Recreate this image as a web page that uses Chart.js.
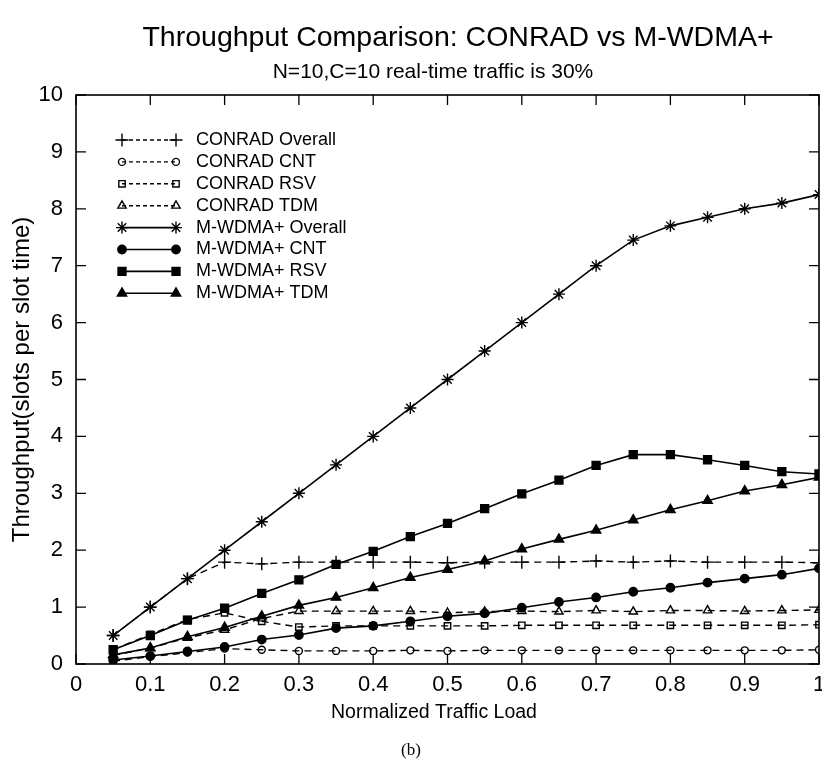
<!DOCTYPE html>
<html lang="en">
<head>
<meta charset="UTF-8">
<title>Throughput Comparison: CONRAD vs M-WDMA+</title>
<script src="https://cdn.jsdelivr.net/npm/chart.js"></script>
<style>
  html, body { margin: 0; padding: 0; background: #fff; }
  #wrap { width: 822px; height: 759px; }
</style>
</head>
<body>
<div id="wrap"><canvas id="throughputChart" width="822" height="759"></canvas></div>
<script>
// normalized traffic load
const loads = [0.05, 0.10, 0.15, 0.20, 0.25, 0.30, 0.35, 0.40, 0.45, 0.50,
               0.55, 0.60, 0.65, 0.70, 0.75, 0.80, 0.85, 0.90, 0.95, 1.00];

// CONRAD throughput (slots per slot time)
const conradOverall = [0.50, 1.00, 1.50, 1.79, 1.76, 1.79, 1.79, 1.79, 1.79, 1.78,
                       1.79, 1.79, 1.79, 1.81, 1.79, 1.81, 1.79, 1.79, 1.79, 1.78];
const conradCnt = [0.05, 0.13, 0.20, 0.27, 0.25, 0.23, 0.23, 0.23, 0.24, 0.23,
                   0.24, 0.24, 0.24, 0.24, 0.24, 0.24, 0.24, 0.24, 0.24, 0.25];
const conradRsv = [0.25, 0.52, 0.78, 0.90, 0.75, 0.65, 0.67, 0.67, 0.67, 0.67,
                   0.67, 0.68, 0.68, 0.68, 0.68, 0.68, 0.68, 0.68, 0.68, 0.69];
const conradTdm = [0.15, 0.28, 0.46, 0.60, 0.80, 0.93, 0.93, 0.93, 0.93, 0.90,
                   0.92, 0.93, 0.92, 0.94, 0.92, 0.94, 0.94, 0.93, 0.94, 0.95];

// M-WDMA+ throughput
const mwdmaOverall = [0.50, 1.00, 1.50, 2.00, 2.50, 3.00, 3.50, 4.00, 4.50, 5.00,
                      5.50, 6.00, 6.50, 7.00, 7.45, 7.70, 7.85, 8.00, 8.10, 8.25];
const mwdmaCnt = [0.07, 0.14, 0.22, 0.30, 0.43, 0.51, 0.63, 0.67, 0.75, 0.84,
                  0.89, 0.99, 1.09, 1.17, 1.27, 1.34, 1.43, 1.50, 1.57, 1.68];
const mwdmaRsv = [0.25, 0.50, 0.77, 0.98, 1.24, 1.48, 1.75, 1.98, 2.24, 2.47,
                  2.73, 2.99, 3.23, 3.49, 3.68, 3.68, 3.59, 3.49, 3.38, 3.34];
const mwdmaTdm = [0.16, 0.28, 0.48, 0.64, 0.84, 1.03, 1.17, 1.34, 1.52, 1.66,
                  1.81, 2.02, 2.19, 2.35, 2.53, 2.71, 2.87, 3.04, 3.15, 3.28];

const seriesNames = ['CONRAD Overall', 'CONRAD CNT', 'CONRAD RSV', 'CONRAD TDM',
                     'M-WDMA+ Overall', 'M-WDMA+ CNT', 'M-WDMA+ RSV', 'M-WDMA+ TDM'];
const seriesValues = [conradOverall, conradCnt, conradRsv, conradTdm,
                      mwdmaOverall, mwdmaCnt, mwdmaRsv, mwdmaTdm];

const xTicks = [0, 0.1, 0.2, 0.3, 0.4, 0.5, 0.6, 0.7, 0.8, 0.9, 1];
const xTickLabels = ['0', '0.1', '0.2', '0.3', '0.4', '0.5', '0.6', '0.7', '0.8', '0.9', '1'];
const yTicks = [0, 1, 2, 3, 4, 5, 6, 7, 8, 9, 10];
const yTickLabels = ['0', '1', '2', '3', '4', '5', '6', '7', '8', '9', '10'];

const FONT = '"Liberation Sans", Arial, sans-serif';
const INK = '#000';

// marker / line look per series (dashed = CONRAD, solid = M-WDMA+)
const markerStyles = [
  { style: 'cross',    radius: 6.5, filled: false },
  { style: 'circle',   radius: 3.5, filled: false },
  { style: 'rect',     radius: 4.5, filled: false },
  { style: 'triangle', radius: 4.8, filled: false },
  { style: 'star',     radius: 6,   filled: false },
  { style: 'circle',   radius: 4.2, filled: true },
  { style: 'rect',     radius: 5.6, filled: true },
  { style: 'triangle', radius: 5.4, filled: true }
];

const datasets = seriesNames.map((name, i) => {
  const m = markerStyles[i];
  const dashed = i < 4;
  return {
    label: name,
    data: loads.map((x, j) => ({ x: x, y: seriesValues[i][j] })),
    showLine: true,
    borderColor: INK,
    borderWidth: dashed ? 1.4 : 1.6,
    borderDash: dashed ? [7, 5] : [],
    pointStyle: m.style,
    pointRadius: m.radius,
    pointBorderWidth: 1.4,
    pointBorderColor: INK,
    pointBackgroundColor: m.filled ? INK : 'rgba(0,0,0,0)',
    tension: 0
  };
});

// box around the plot, inward tick marks on all four sides, tick labels
const axesBox = {
  id: 'axesBox',
  beforeDatasetsDraw(chart) {
    const { ctx, chartArea: a, scales } = chart;
    const tl = 10;
    ctx.save();
    ctx.strokeStyle = INK;
    ctx.lineWidth = 1.6;
    ctx.strokeRect(a.left, a.top, a.right - a.left, a.bottom - a.top);
    ctx.lineWidth = 1.3;
    ctx.beginPath();
    xTicks.forEach(v => {
      const px = scales.x.getPixelForValue(v);
      ctx.moveTo(px, a.bottom); ctx.lineTo(px, a.bottom - tl);
      ctx.moveTo(px, a.top); ctx.lineTo(px, a.top + tl);
    });
    yTicks.forEach(v => {
      const py = scales.y.getPixelForValue(v);
      ctx.moveTo(a.left, py); ctx.lineTo(a.left + tl, py);
      ctx.moveTo(a.right, py); ctx.lineTo(a.right - tl, py);
    });
    ctx.stroke();

    ctx.fillStyle = INK;
    ctx.font = '22px ' + FONT;
    ctx.textBaseline = 'middle';
    ctx.textAlign = 'center';
    xTicks.forEach((v, i) => {
      ctx.fillText(xTickLabels[i], scales.x.getPixelForValue(v), a.bottom + 21);
    });
    ctx.textAlign = 'right';
    yTicks.forEach((v, i) => {
      ctx.fillText(yTickLabels[i], a.left - 13, scales.y.getPixelForValue(v));
    });
    ctx.restore();
  }
};

// legend drawn inside the plot: line sample with a marker at each end
const innerLegend = {
  id: 'innerLegend',
  afterDatasetsDraw(chart) {
    const ctx = chart.ctx;
    const x0 = 122, x1 = 176, textX = 196, y0 = 140, step = 21.9;
    ctx.save();
    chart.data.datasets.forEach((ds, i) => {
      const y = y0 + i * step;
      ctx.strokeStyle = ds.borderColor;
      ctx.lineWidth = ds.borderWidth;
      ctx.setLineDash(ds.borderDash.length ? [4, 3] : []);
      ctx.beginPath();
      ctx.moveTo(x0, y); ctx.lineTo(x1, y);
      ctx.stroke();
      ctx.setLineDash([]);
      ctx.fillStyle = ds.pointBackgroundColor;
      ctx.strokeStyle = ds.pointBorderColor;
      ctx.lineWidth = ds.pointBorderWidth;
      [x0, x1].forEach(px => {
        Chart.helpers.drawPoint(ctx, {
          pointStyle: ds.pointStyle, radius: ds.pointRadius,
          rotation: 0, borderWidth: ds.pointBorderWidth
        }, px, y);
      });
      ctx.fillStyle = INK;
      ctx.font = '18px ' + FONT;
      ctx.textBaseline = 'middle';
      ctx.textAlign = 'left';
      ctx.fillText(ds.label, textX, y);
    });
    ctx.restore();
  }
};

// title, subtitle, x axis title and figure caption
const headings = {
  id: 'headings',
  afterDraw(chart) {
    const ctx = chart.ctx;
    ctx.save();
    ctx.fillStyle = INK;
    ctx.textAlign = 'center';
    ctx.textBaseline = 'middle';
    ctx.font = '28.5px ' + FONT;
    ctx.fillText('Throughput Comparison: CONRAD vs M-WDMA+', 458, 38);
    ctx.font = '21px ' + FONT;
    ctx.fillText('N=10,C=10 real-time traffic is 30%', 433, 72);
    ctx.font = '19.5px ' + FONT;
    ctx.fillText('Normalized Traffic Load', 434, 713);
    ctx.font = '17px "Liberation Serif", "DejaVu Serif", serif';
    ctx.fillText('(b)', 411, 751);
    ctx.restore();
  }
};

new Chart(document.getElementById('throughputChart'), {
  type: 'scatter',
  data: { datasets: datasets },
  options: {
    responsive: false,
    animation: false,
    layout: { autoPadding: false, padding: { left: 0, right: 3, top: 95, bottom: 0 } },
    plugins: {
      legend: { display: false },
      tooltip: { enabled: false }
    },
    scales: {
      x: {
        type: 'linear',
        min: 0,
        max: 1,
        grid: { display: false, drawTicks: false },
        border: { display: false },
        ticks: { display: false },
        afterFit(s) { s.height = 95; }
      },
      y: {
        min: 0,
        max: 10,
        grid: { display: false, drawTicks: false },
        border: { display: false },
        ticks: { display: false },
        afterFit(s) { s.width = 76; },
        title: {
          display: true,
          text: 'Throughput(slots per slot time)',
          color: INK,
          font: { family: FONT, size: 24 },
          padding: { top: 8, bottom: 0 }
        }
      }
    }
  },
  plugins: [axesBox, innerLegend, headings]
});
</script>
</body>
</html>
